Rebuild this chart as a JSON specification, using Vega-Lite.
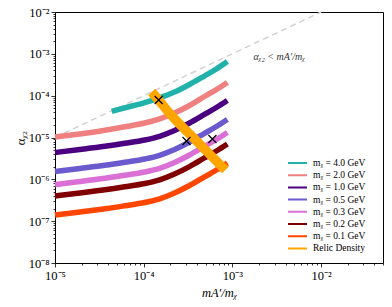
{
  "$schema": "https://vega.github.io/schema/vega-lite/v6.json",
  "autosize": {"type": "none"},
  "width": 328,
  "height": 251,
  "padding": {"left": 55, "top": 12, "right": 9, "bottom": 44},
  "config": {
    "font": "Liberation Serif",
    "view": {"stroke": "black", "strokeWidth": 1},
    "axis": {
      "grid": false,
      "domain": false,
      "tickColor": "black",
      "tickWidth": 0.8,
      "labelColor": "black",
      "labelFont": "Liberation Serif",
      "labelFontSize": 12.5,
      "labelOverlap": false,
      "labelFlush": false,
      "titleColor": "black",
      "titleFont": "Liberation Serif",
      "titleFontWeight": "normal",
      "titleFontSize": 12.5
    }
  },
  "datasets": {
    "bands": [
      {"series": "mᵪ = 0.1 GeV", "x": 1e-5, "y": 1.40e-7},
      {"series": "mᵪ = 0.1 GeV", "x": 1.91e-5, "y": 1.66e-7},
      {"series": "mᵪ = 0.1 GeV", "x": 3.648e-5, "y": 1.97e-7},
      {"series": "mᵪ = 0.1 GeV", "x": 6.124e-5, "y": 2.33e-7},
      {"series": "mᵪ = 0.1 GeV", "x": 1.026e-4, "y": 2.79e-7},
      {"series": "mᵪ = 0.1 GeV", "x": 1.514e-4, "y": 3.42e-7},
      {"series": "mᵪ = 0.1 GeV", "x": 2.228e-4, "y": 4.71e-7},
      {"series": "mᵪ = 0.1 GeV", "x": 3.289e-4, "y": 7.11e-7},
      {"series": "mᵪ = 0.1 GeV", "x": 4.842e-4, "y": 1.14e-6},
      {"series": "mᵪ = 0.1 GeV", "x": 6.607e-4, "y": 1.67e-6},
      {"series": "mᵪ = 0.1 GeV", "x": 8.79e-4, "y": 2.45e-6},
      {"series": "mᵪ = 0.2 GeV", "x": 1e-5, "y": 3.99e-7},
      {"series": "mᵪ = 0.2 GeV", "x": 1.91e-5, "y": 4.71e-7},
      {"series": "mᵪ = 0.2 GeV", "x": 3.648e-5, "y": 5.61e-7},
      {"series": "mᵪ = 0.2 GeV", "x": 6.124e-5, "y": 6.62e-7},
      {"series": "mᵪ = 0.2 GeV", "x": 1.026e-4, "y": 7.94e-7},
      {"series": "mᵪ = 0.2 GeV", "x": 1.514e-4, "y": 9.75e-7},
      {"series": "mᵪ = 0.2 GeV", "x": 2.228e-4, "y": 1.34e-6},
      {"series": "mᵪ = 0.2 GeV", "x": 3.289e-4, "y": 2.02e-6},
      {"series": "mᵪ = 0.2 GeV", "x": 4.842e-4, "y": 3.24e-6},
      {"series": "mᵪ = 0.2 GeV", "x": 6.607e-4, "y": 4.75e-6},
      {"series": "mᵪ = 0.2 GeV", "x": 8.79e-4, "y": 6.98e-6},
      {"series": "mᵪ = 0.3 GeV", "x": 1e-5, "y": 7.52e-7},
      {"series": "mᵪ = 0.3 GeV", "x": 1.91e-5, "y": 8.87e-7},
      {"series": "mᵪ = 0.3 GeV", "x": 3.648e-5, "y": 1.06e-6},
      {"series": "mᵪ = 0.3 GeV", "x": 6.124e-5, "y": 1.25e-6},
      {"series": "mᵪ = 0.3 GeV", "x": 1.026e-4, "y": 1.50e-6},
      {"series": "mᵪ = 0.3 GeV", "x": 1.514e-4, "y": 1.83e-6},
      {"series": "mᵪ = 0.3 GeV", "x": 2.228e-4, "y": 2.52e-6},
      {"series": "mᵪ = 0.3 GeV", "x": 3.289e-4, "y": 3.81e-6},
      {"series": "mᵪ = 0.3 GeV", "x": 4.842e-4, "y": 6.10e-6},
      {"series": "mᵪ = 0.3 GeV", "x": 6.607e-4, "y": 8.95e-6},
      {"series": "mᵪ = 0.3 GeV", "x": 8.79e-4, "y": 1.32e-5},
      {"series": "mᵪ = 0.5 GeV", "x": 1e-5, "y": 1.54e-6},
      {"series": "mᵪ = 0.5 GeV", "x": 1.91e-5, "y": 1.82e-6},
      {"series": "mᵪ = 0.5 GeV", "x": 3.648e-5, "y": 2.16e-6},
      {"series": "mᵪ = 0.5 GeV", "x": 6.124e-5, "y": 2.55e-6},
      {"series": "mᵪ = 0.5 GeV", "x": 1.026e-4, "y": 3.06e-6},
      {"series": "mᵪ = 0.5 GeV", "x": 1.514e-4, "y": 3.75e-6},
      {"series": "mᵪ = 0.5 GeV", "x": 2.228e-4, "y": 5.16e-6},
      {"series": "mᵪ = 0.5 GeV", "x": 3.289e-4, "y": 7.80e-6},
      {"series": "mᵪ = 0.5 GeV", "x": 4.842e-4, "y": 1.25e-5},
      {"series": "mᵪ = 0.5 GeV", "x": 6.607e-4, "y": 1.83e-5},
      {"series": "mᵪ = 0.5 GeV", "x": 8.79e-4, "y": 2.69e-5},
      {"series": "mᵪ = 1.0 GeV", "x": 1e-5, "y": 4.38e-6},
      {"series": "mᵪ = 1.0 GeV", "x": 1.91e-5, "y": 5.16e-6},
      {"series": "mᵪ = 1.0 GeV", "x": 3.648e-5, "y": 6.15e-6},
      {"series": "mᵪ = 1.0 GeV", "x": 6.124e-5, "y": 7.26e-6},
      {"series": "mᵪ = 1.0 GeV", "x": 1.026e-4, "y": 8.71e-6},
      {"series": "mᵪ = 1.0 GeV", "x": 1.514e-4, "y": 1.07e-5},
      {"series": "mᵪ = 1.0 GeV", "x": 2.228e-4, "y": 1.47e-5},
      {"series": "mᵪ = 1.0 GeV", "x": 3.289e-4, "y": 2.22e-5},
      {"series": "mᵪ = 1.0 GeV", "x": 4.842e-4, "y": 3.55e-5},
      {"series": "mᵪ = 1.0 GeV", "x": 6.607e-4, "y": 5.21e-5},
      {"series": "mᵪ = 1.0 GeV", "x": 8.79e-4, "y": 7.66e-5},
      {"series": "mᵪ = 2.0 GeV", "x": 1e-5, "y": 1.03e-5},
      {"series": "mᵪ = 2.0 GeV", "x": 1.91e-5, "y": 1.21e-5},
      {"series": "mᵪ = 2.0 GeV", "x": 3.648e-5, "y": 1.49e-5},
      {"series": "mᵪ = 2.0 GeV", "x": 6.124e-5, "y": 1.80e-5},
      {"series": "mᵪ = 2.0 GeV", "x": 1.026e-4, "y": 2.22e-5},
      {"series": "mᵪ = 2.0 GeV", "x": 1.514e-4, "y": 2.80e-5},
      {"series": "mᵪ = 2.0 GeV", "x": 2.228e-4, "y": 3.85e-5},
      {"series": "mᵪ = 2.0 GeV", "x": 3.289e-4, "y": 5.82e-5},
      {"series": "mᵪ = 2.0 GeV", "x": 4.842e-4, "y": 9.55e-5},
      {"series": "mᵪ = 2.0 GeV", "x": 6.607e-4, "y": 1.40e-4},
      {"series": "mᵪ = 2.0 GeV", "x": 8.79e-4, "y": 2.07e-4},
      {"series": "mᵪ = 4.0 GeV", "x": 4.365e-5, "y": 4.21e-5},
      {"series": "mᵪ = 4.0 GeV", "x": 6.124e-5, "y": 5.13e-5},
      {"series": "mᵪ = 4.0 GeV", "x": 1.026e-4, "y": 6.85e-5},
      {"series": "mᵪ = 4.0 GeV", "x": 1.514e-4, "y": 8.89e-5},
      {"series": "mᵪ = 4.0 GeV", "x": 2.228e-4, "y": 1.22e-4},
      {"series": "mᵪ = 4.0 GeV", "x": 3.289e-4, "y": 1.85e-4},
      {"series": "mᵪ = 4.0 GeV", "x": 4.842e-4, "y": 2.95e-4},
      {"series": "mᵪ = 4.0 GeV", "x": 6.607e-4, "y": 4.34e-4},
      {"series": "mᵪ = 4.0 GeV", "x": 8.79e-4, "y": 6.56e-4}
    ],
    "relic": [
      {"series": "Relic Density", "x": 1.230e-4, "y": 1.225e-4},
      {"series": "Relic Density", "x": 1.476e-4, "y": 7.87e-5},
      {"series": "Relic Density", "x": 1.862e-4, "y": 4.30e-5},
      {"series": "Relic Density", "x": 2.41e-4, "y": 2.34e-5},
      {"series": "Relic Density", "x": 3.46e-4, "y": 1.09e-5},
      {"series": "Relic Density", "x": 4.97e-4, "y": 5.02e-6},
      {"series": "Relic Density", "x": 8.34e-4, "y": 1.67e-6}
    ],
    "dash": [
      {"x": 1e-5, "y": 1e-5},
      {"x": 1e-2, "y": 1e-2}
    ],
    "crosses": [
      {"x": 1.476e-4, "y": 7.87e-5},
      {"x": 3.04e-4, "y": 8.24e-6},
      {"x": 5.96e-4, "y": 9.2e-6}
    ],
    "note": [
      {"x": 3.37e-3, "y": 8.4e-4, "label": "αᵪ₂ < mA′/mᵪ"}
    ]
  },
  "layer": [
    {
      "data": {"name": "dash"},
      "mark": {"type": "line", "color": "#d0d0d0", "strokeDash": [6, 4], "strokeWidth": 1.4},
      "encoding": {
        "x": {
          "field": "x", "type": "quantitative",
          "scale": {"type": "log", "domain": [1e-5, 0.05], "nice": false},
          "axis": {
            "title": "mA′/mᵪ",
            "titleFontStyle": "italic",
            "titlePadding": 5,
            "values": [1e-5, 2e-5, 3e-5, 4e-5, 5e-5, 6e-5, 7e-5, 8e-5, 9e-5, 1e-4, 2e-4, 3e-4, 4e-4, 5e-4, 6e-4, 7e-4, 8e-4, 9e-4, 1e-3, 2e-3, 3e-3, 4e-3, 5e-3, 6e-3, 7e-3, 8e-3, 9e-3, 1e-2, 2e-2, 3e-2, 4e-2, 5e-2],
            "tickSize": {"condition": {"test": "abs(log(datum.value)/LN10 - round(log(datum.value)/LN10)) < 0.01", "value": 4}, "value": 2},
            "labelExpr": "abs(log(datum.value)/LN10 - round(log(datum.value)/LN10)) < 0.01 ? '10' + replace(replace(replace(replace(replace(replace(replace(replace(toString(round(log(datum.value)/LN10)),'-','⁻'),'2','²'),'3','³'),'4','⁴'),'5','⁵'),'6','⁶'),'7','⁷'),'8','⁸') : ''"
          }
        },
        "y": {
          "field": "y", "type": "quantitative",
          "scale": {"type": "log", "domain": [1e-8, 1e-2], "nice": false},
          "axis": {
            "title": "αᵪ₂",
            "titlePadding": 1,
            "values": [1e-8, 2e-8, 3e-8, 4e-8, 5e-8, 6e-8, 7e-8, 8e-8, 9e-8, 1e-7, 2e-7, 3e-7, 4e-7, 5e-7, 6e-7, 7e-7, 8e-7, 9e-7, 1e-6, 2e-6, 3e-6, 4e-6, 5e-6, 6e-6, 7e-6, 8e-6, 9e-6, 1e-5, 2e-5, 3e-5, 4e-5, 5e-5, 6e-5, 7e-5, 8e-5, 9e-5, 1e-4, 2e-4, 3e-4, 4e-4, 5e-4, 6e-4, 7e-4, 8e-4, 9e-4, 1e-3, 2e-3, 3e-3, 4e-3, 5e-3, 6e-3, 7e-3, 8e-3, 9e-3, 1e-2],
            "tickSize": {"condition": {"test": "abs(log(datum.value)/LN10 - round(log(datum.value)/LN10)) < 0.01", "value": 4}, "value": 2},
            "labelExpr": "abs(log(datum.value)/LN10 - round(log(datum.value)/LN10)) < 0.01 ? '10' + replace(replace(replace(replace(replace(replace(replace(replace(toString(round(log(datum.value)/LN10)),'-','⁻'),'2','²'),'3','³'),'4','⁴'),'5','⁵'),'6','⁶'),'7','⁷'),'8','⁸') : ''"
          }
        }
      }
    },
    {
      "data": {"name": "bands"},
      "mark": {"type": "line", "strokeWidth": 5.5, "interpolate": "monotone"},
      "encoding": {
        "x": {"field": "x", "type": "quantitative"},
        "y": {"field": "y", "type": "quantitative"},
        "color": {
          "field": "series", "type": "nominal",
          "scale": {
            "domain": ["mᵪ = 4.0 GeV", "mᵪ = 2.0 GeV", "mᵪ = 1.0 GeV", "mᵪ = 0.5 GeV", "mᵪ = 0.3 GeV", "mᵪ = 0.2 GeV", "mᵪ = 0.1 GeV", "Relic Density"],
            "range": ["#20b2aa", "#f08080", "#4b0082", "#6a5acd", "#da70d6", "#800000", "#ff4500", "#ffa500"]
          },
          "legend": {
            "title": null,
            "orient": "none",
            "legendX": 232,
            "legendY": 145,
            "padding": 0,
            "symbolType": "stroke",
            "symbolSize": 361,
            "symbolStrokeWidth": 2,
            "clipHeight": 12,
            "rowPadding": 0.2,
            "labelOffset": 5,
            "labelFont": "Liberation Serif",
            "labelFontSize": 9.5,
            "labelColor": "black",
            "encode": {"symbols": {"update": {"strokeWidth": {"value": 2}}}}
          }
        }
      }
    },
    {
      "data": {"name": "relic"},
      "mark": {"type": "line", "strokeWidth": 9.5, "strokeCap": "butt", "interpolate": "monotone"},
      "encoding": {
        "x": {"field": "x", "type": "quantitative"},
        "y": {"field": "y", "type": "quantitative"},
        "color": {"field": "series", "type": "nominal"}
      }
    },
    {
      "data": {"name": "crosses"},
      "mark": {"type": "point", "shape": "M-1,-1L1,1M-1,1L1,-1", "size": 64, "filled": false, "stroke": "black", "strokeWidth": 1.2, "opacity": 1},
      "encoding": {
        "x": {"field": "x", "type": "quantitative"},
        "y": {"field": "y", "type": "quantitative"}
      }
    },
    {
      "data": {"name": "note"},
      "mark": {"type": "text", "font": "Liberation Serif", "fontStyle": "italic", "fontSize": 10, "color": "#333333", "align": "center", "baseline": "middle"},
      "encoding": {
        "x": {"field": "x", "type": "quantitative"},
        "y": {"field": "y", "type": "quantitative"},
        "text": {"field": "label", "type": "nominal"}
      }
    }
  ]
}
